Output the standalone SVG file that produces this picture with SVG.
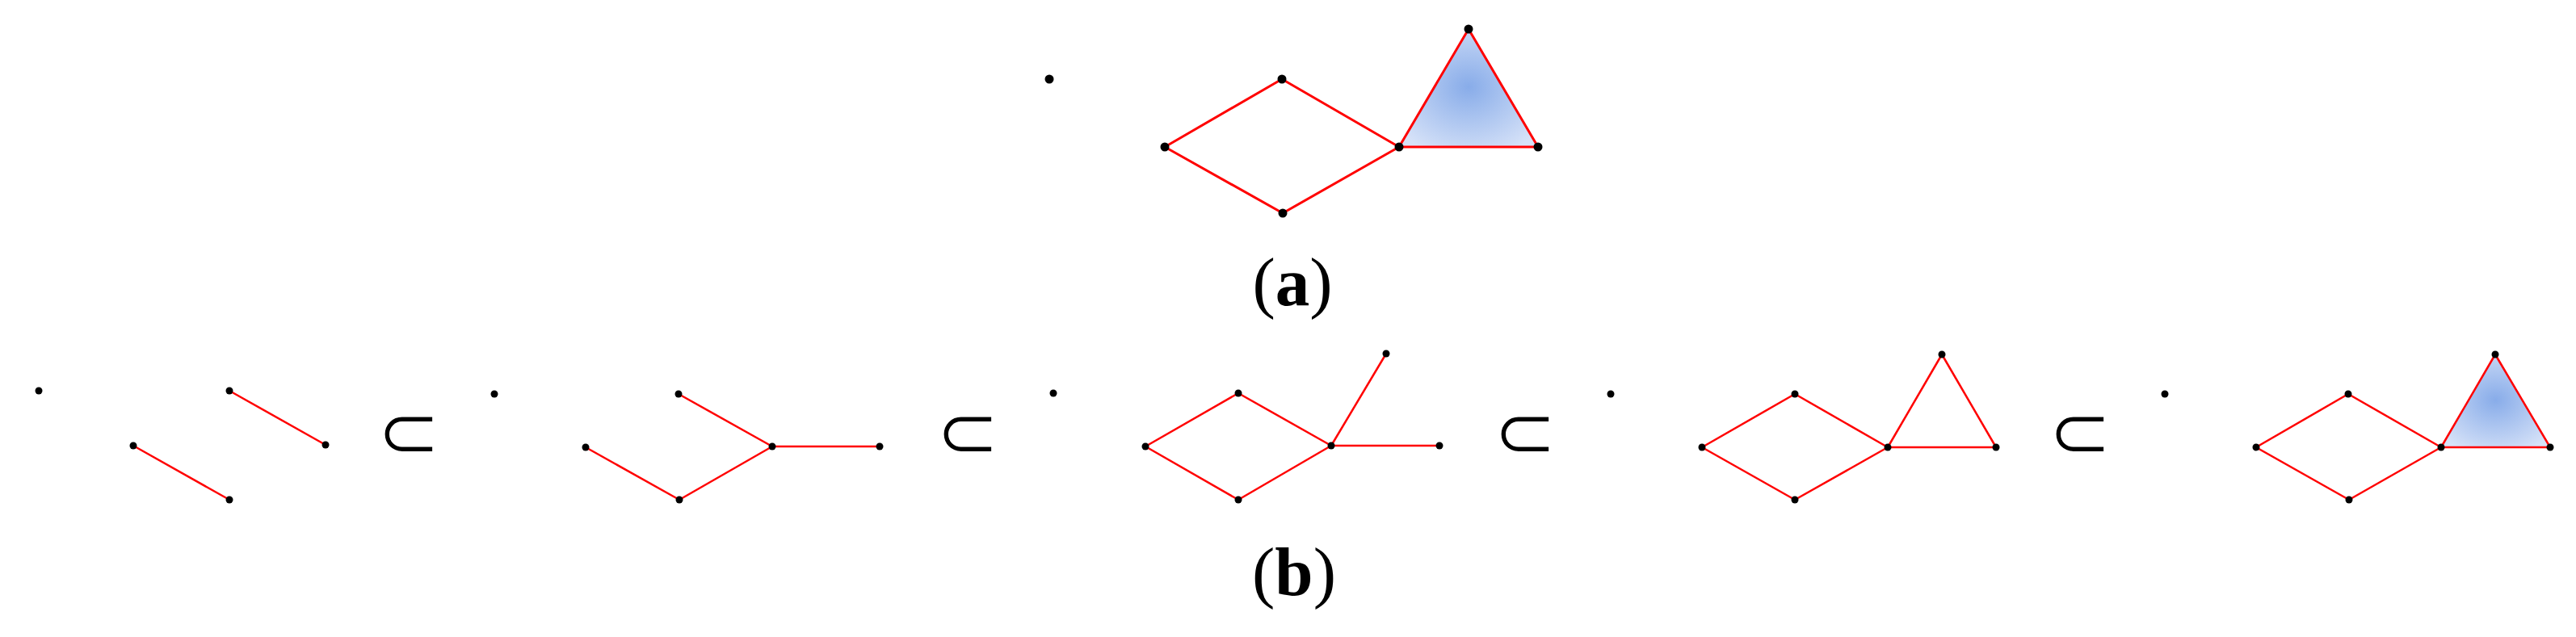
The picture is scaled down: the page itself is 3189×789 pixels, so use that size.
<svg xmlns="http://www.w3.org/2000/svg" width="3189" height="789" viewBox="0 0 3189 789">
<style>
.e{stroke:#ff0000;stroke-width:2.5;fill:none;stroke-linecap:round}
.eA{stroke:#ff0000;stroke-width:3;fill:none;stroke-linecap:round}
.v{fill:#000}
.face{fill:url(#blueGrad);stroke:none}
.sub{font-family:"DejaVu Sans",sans-serif;font-size:94px;fill:#000;stroke:#fff;stroke-width:1.5}
.lab{font-family:"Liberation Serif",serif;font-size:85px;fill:#000}
</style>
<defs>
<radialGradient id="blueGrad" cx="0.5" cy="0.49" r="0.62">
<stop offset="0" stop-color="#88ace9"/>
<stop offset="1" stop-color="#d6e2f8"/>
</radialGradient>
</defs>
<rect width="3189" height="789" fill="#fff"/>

<!-- faces -->
<g id="faces">
<polygon class="face" points="1732,182 1818,36 1904,182"/>
<polygon class="face" points="3022,554 3089,439 3157,554"/>
</g>

<!-- connectors -->
<g id="connectors">
<!-- (a) -->
<line class="eA" x1="1442" y1="182" x2="1587" y2="98"/>
<line class="eA" x1="1442" y1="182" x2="1588" y2="264"/>
<line class="eA" x1="1587" y1="98" x2="1732" y2="182"/>
<line class="eA" x1="1588" y1="264" x2="1732" y2="182"/>
<line class="eA" x1="1732" y1="182" x2="1818" y2="36"/>
<line class="eA" x1="1818" y1="36" x2="1904" y2="182"/>
<line class="eA" x1="1732" y1="182" x2="1904" y2="182"/>
<!-- (b) panel 1 -->
<line class="e" x1="165" y1="552" x2="284" y2="619"/>
<line class="e" x1="284" y1="484" x2="403" y2="551"/>
<!-- panel 2 -->
<line class="e" x1="840" y1="488" x2="956" y2="553"/>
<line class="e" x1="725" y1="554" x2="841" y2="619"/>
<line class="e" x1="841" y1="619" x2="956" y2="553"/>
<line class="e" x1="956" y1="553" x2="1089" y2="553"/>
<!-- panel 3 -->
<line class="e" x1="1418" y1="553" x2="1533" y2="487"/>
<line class="e" x1="1418" y1="553" x2="1533" y2="619"/>
<line class="e" x1="1533" y1="487" x2="1648" y2="552"/>
<line class="e" x1="1533" y1="619" x2="1648" y2="552"/>
<line class="e" x1="1648" y1="552" x2="1716" y2="438"/>
<line class="e" x1="1648" y1="552" x2="1782" y2="552"/>
<!-- panel 4 -->
<line class="e" x1="2107" y1="554" x2="2222" y2="488"/>
<line class="e" x1="2107" y1="554" x2="2222" y2="619"/>
<line class="e" x1="2222" y1="488" x2="2337" y2="554"/>
<line class="e" x1="2222" y1="619" x2="2337" y2="554"/>
<line class="e" x1="2337" y1="554" x2="2404" y2="439"/>
<line class="e" x1="2404" y1="439" x2="2471" y2="554"/>
<line class="e" x1="2337" y1="554" x2="2471" y2="554"/>
<!-- panel 5 -->
<line class="e" x1="2793" y1="554" x2="2907" y2="488"/>
<line class="e" x1="2793" y1="554" x2="2908" y2="619"/>
<line class="e" x1="2907" y1="488" x2="3022" y2="554"/>
<line class="e" x1="2908" y1="619" x2="3022" y2="554"/>
<line class="e" x1="3022" y1="554" x2="3089" y2="439"/>
<line class="e" x1="3089" y1="439" x2="3157" y2="554"/>
<line class="e" x1="3022" y1="554" x2="3157" y2="554"/>
</g>

<!-- nodes (a) -->
<g id="a-v0"><circle class="v" cx="1299" cy="98" r="5.5"/></g>
<g id="a-v1"><circle class="v" cx="1442" cy="182" r="5.5"/></g>
<g id="a-v2"><circle class="v" cx="1587" cy="98" r="5.5"/></g>
<g id="a-v3"><circle class="v" cx="1588" cy="264" r="5.5"/></g>
<g id="a-v4"><circle class="v" cx="1732" cy="182" r="5.5"/></g>
<g id="a-v5"><circle class="v" cx="1818" cy="36" r="5.5"/></g>
<g id="a-v6"><circle class="v" cx="1904" cy="182" r="5.5"/></g>

<!-- nodes (b) panel 1 -->
<g id="b1-v0"><circle class="v" cx="48" cy="484" r="4.5"/></g>
<g id="b1-v1"><circle class="v" cx="165" cy="552" r="4.5"/></g>
<g id="b1-v2"><circle class="v" cx="284" cy="619" r="4.5"/></g>
<g id="b1-v3"><circle class="v" cx="284" cy="484" r="4.5"/></g>
<g id="b1-v4"><circle class="v" cx="403" cy="551" r="4.5"/></g>
<!-- panel 2 -->
<g id="b2-v0"><circle class="v" cx="612" cy="488" r="4.5"/></g>
<g id="b2-v1"><circle class="v" cx="840" cy="488" r="4.5"/></g>
<g id="b2-v2"><circle class="v" cx="725" cy="554" r="4.5"/></g>
<g id="b2-v3"><circle class="v" cx="841" cy="619" r="4.5"/></g>
<g id="b2-v4"><circle class="v" cx="956" cy="553" r="4.5"/></g>
<g id="b2-v5"><circle class="v" cx="1089" cy="553" r="4.5"/></g>
<!-- panel 3 -->
<g id="b3-v0"><circle class="v" cx="1304" cy="487" r="4.5"/></g>
<g id="b3-v1"><circle class="v" cx="1533" cy="487" r="4.5"/></g>
<g id="b3-v2"><circle class="v" cx="1418" cy="553" r="4.5"/></g>
<g id="b3-v3"><circle class="v" cx="1533" cy="619" r="4.5"/></g>
<g id="b3-v4"><circle class="v" cx="1648" cy="552" r="4.5"/></g>
<g id="b3-v5"><circle class="v" cx="1716" cy="438" r="4.5"/></g>
<g id="b3-v6"><circle class="v" cx="1782" cy="552" r="4.5"/></g>
<!-- panel 4 -->
<g id="b4-v0"><circle class="v" cx="1994" cy="488" r="4.5"/></g>
<g id="b4-v1"><circle class="v" cx="2107" cy="554" r="4.5"/></g>
<g id="b4-v2"><circle class="v" cx="2222" cy="488" r="4.5"/></g>
<g id="b4-v3"><circle class="v" cx="2222" cy="619" r="4.5"/></g>
<g id="b4-v4"><circle class="v" cx="2337" cy="554" r="4.5"/></g>
<g id="b4-v5"><circle class="v" cx="2404" cy="439" r="4.5"/></g>
<g id="b4-v6"><circle class="v" cx="2471" cy="554" r="4.5"/></g>
<!-- panel 5 -->
<g id="b5-v0"><circle class="v" cx="2680" cy="488" r="4.5"/></g>
<g id="b5-v1"><circle class="v" cx="2793" cy="554" r="4.5"/></g>
<g id="b5-v2"><circle class="v" cx="2907" cy="488" r="4.5"/></g>
<g id="b5-v3"><circle class="v" cx="2908" cy="619" r="4.5"/></g>
<g id="b5-v4"><circle class="v" cx="3022" cy="554" r="4.5"/></g>
<g id="b5-v5"><circle class="v" cx="3089" cy="439" r="4.5"/></g>
<g id="b5-v6"><circle class="v" cx="3157" cy="554" r="4.5"/></g>

<!-- subset symbols -->
<g id="subsets">
<text class="sub" x="506" y="567" text-anchor="middle">⊂</text>
<text class="sub" x="1198" y="567" text-anchor="middle">⊂</text>
<text class="sub" x="1888" y="567" text-anchor="middle">⊂</text>
<text class="sub" x="2575" y="567" text-anchor="middle">⊂</text>
</g>

<!-- labels -->
<g id="labels">
<text class="lab" x="1600" y="378" text-anchor="middle">(<tspan font-weight="bold">a</tspan>)</text>
<text class="lab" x="1602" y="737" text-anchor="middle">(<tspan font-weight="bold">b</tspan>)</text>
</g>
</svg>
